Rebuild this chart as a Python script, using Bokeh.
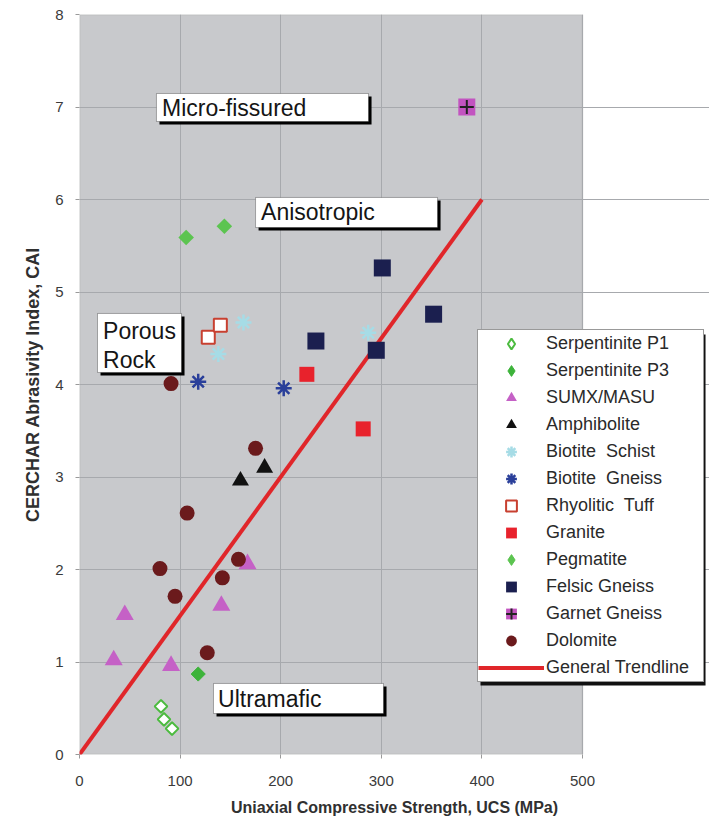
from bokeh.plotting import figure
from bokeh.models import (Range1d, FixedTicker, Legend, LegendItem, BoxAnnotation, Label)
from bokeh.embed import file_html
from bokeh.resources import INLINE
import math

# ---------------- data ----------------
serp_p1_ucs = [81, 84, 92]
serp_p1_cai = [0.52, 0.38, 0.28]
serp_p3_ucs = [118]
serp_p3_cai = [0.87]
sumx_ucs = [34, 45, 91, 141, 167]
sumx_cai = [1.02, 1.51, 0.96, 1.61, 2.06]
amph_ucs = [160, 184]
amph_cai = [2.96, 3.10]
bschist_ucs = [138, 163, 287]
bschist_cai = [4.33, 4.67, 4.56]
bgneiss_ucs = [118, 203]
bgneiss_cai = [4.03, 3.96]
rtuff_ucs = [128, 140]
rtuff_cai = [4.51, 4.64]
granite_ucs = [226, 282]
granite_cai = [4.11, 3.52]
pegm_ucs = [106, 144]
pegm_cai = [5.59, 5.71]
felsic_ucs = [235, 295, 301, 352]
felsic_cai = [4.47, 4.37, 5.26, 4.76]
garnet_ucs = [385]
garnet_cai = [7.0]
dolo_ucs = [91, 175, 107, 80, 95, 158, 142, 127]
dolo_cai = [4.01, 3.31, 2.61, 2.01, 1.71, 2.11, 1.91, 1.10]
trend_ucs = [0, 400]
trend_cai = [0, 6]

x_ticks = [0, 100, 200, 300, 400, 500]
y_ticks = [0, 1, 2, 3, 4, 5, 6, 7, 8]
X_MAX, Y_MAX = 500, 8

FONT = "Liberation Sans"

# frame spans past x=500 so that the legend (which overlaps the plot edge) is not clipped
p = figure(width=709, height=826, output_backend="svg", toolbar_location=None,
           x_range=Range1d(0, 500 * 630 / 503), y_range=Range1d(0, Y_MAX),
           min_border_left=79, min_border_top=14, min_border_right=0, min_border_bottom=72)
p.background_fill_color = "white"
p.border_fill_color = "white"
p.outline_line_color = None

# grey plotting area 0..500 x 0..8
p.add_layout(BoxAnnotation(left=0, right=X_MAX, bottom=0, top=Y_MAX, fill_color="#c8c9cc",
                           fill_alpha=1, line_color="#8a8a8a", line_width=1.5, level="image"))

p.xaxis.ticker = FixedTicker(ticks=x_ticks)
p.yaxis.ticker = FixedTicker(ticks=y_ticks)
for ax in (p.xaxis[0], p.yaxis[0]):
    ax.axis_line_color = None
    ax.major_tick_out = 4
    ax.major_tick_in = 0
    ax.major_tick_line_color = "#9a9a9a"
    ax.minor_tick_line_color = None
    ax.major_label_text_font = FONT
    ax.major_label_text_font_size = "15px"
    ax.major_label_text_color = "#3a3a3a"
    ax.axis_label_text_font = FONT
    ax.axis_label_text_font_style = "bold"
    ax.axis_label_text_color = "#303030"
p.xaxis.major_label_standoff = 17
p.yaxis.major_label_standoff = 12
p.xaxis.axis_label = "Uniaxial Compressive Strength, UCS (MPa)"
p.yaxis.axis_label = "CERCHAR Abrasivity Index, CAI"
p.xaxis.axis_label_text_font_size = "16px"
p.yaxis.axis_label_text_font_size = "18px"
p.xaxis.axis_label_standoff = 10
p.yaxis.axis_label_standoff = 9
p.grid.grid_line_color = "#a7a9ad"
p.grid.grid_line_width = 1
p.ygrid.bounds = (0, X_MAX)

# trendline
r_trend = p.line(trend_ucs, trend_cai, line_color="#e0262a", line_width=4)

ang = math.pi / 4
# diamond glyphs used by the legend (hidden under the rotated squares in the plot)
lg_p1 = p.scatter(serp_p1_ucs, serp_p1_cai, marker="diamond", size=7,
                  fill_color="white", line_color="#4cbb3f", line_width=2)
lg_p3 = p.scatter(serp_p3_ucs, serp_p3_cai, marker="diamond", size=7,
                  fill_color="#3db33a", line_color="#3db33a")
lg_pg = p.scatter(pegm_ucs, pegm_cai, marker="diamond", size=7,
                  fill_color="#5cc450", line_color="#5cc450")

p.scatter(serp_p1_ucs, serp_p1_cai, marker="square", angle=ang, size=9,
          fill_color="white", line_color="#4cbb3f", line_width=2)
p.scatter(serp_p3_ucs, serp_p3_cai, marker="square", angle=ang, size=10,
          fill_color="#3db33a", line_color="#3db33a")
r_sumx = p.scatter(sumx_ucs, sumx_cai, marker="triangle", size=18,
                   fill_color="#c561c6", line_color=None)
r_amph = p.scatter(amph_ucs, amph_cai, marker="triangle", size=17,
                   fill_color="#111111", line_color=None)
r_bs = p.scatter(bschist_ucs, bschist_cai, marker="asterisk", angle=math.pi / 2, size=16,
                 line_color="#a6dce6", line_width=2.5)
r_bg = p.scatter(bgneiss_ucs, bgneiss_cai, marker="asterisk", angle=math.pi / 2, size=16,
                 line_color="#2a3f9a", line_width=2.5)
r_rt = p.scatter(rtuff_ucs, rtuff_cai, marker="square", size=13,
                 fill_color="white", line_color="#c84030", line_width=2)
r_gr = p.scatter(granite_ucs, granite_cai, marker="square", size=15,
                 fill_color="#e8222c", line_color=None)
p.scatter(pegm_ucs, pegm_cai, marker="square", angle=ang, size=11,
          fill_color="#5cc450", line_color=None)
r_fg = p.scatter(felsic_ucs, felsic_cai, marker="square", size=17,
                 fill_color="#1b1f4f", line_color=None)
r_gg = p.scatter(garnet_ucs, garnet_cai, marker="square", size=17,
                 fill_color="#c254c0", line_color=None)
r_gg2 = p.scatter(garnet_ucs, garnet_cai, marker="cross", size=14,
                  line_color="#222222", line_width=2)
r_do = p.scatter(dolo_ucs, dolo_cai, marker="circle", size=15,
                 fill_color="#6b1a1c", line_color=None)

# annotation boxes (with drop shadow)
dx, dy = 3.0, 0.033
boxes = [
    (76.5, 287.3, 7.146, 6.843),
    (175.0, 355.9, 6.022, 5.697),
    (17.9, 101.4, 4.768, 4.130),
    (133.2, 302.2, 0.768, 0.443),
]
for (l, r, t, b) in boxes:
    p.add_layout(BoxAnnotation(left=l + dx, right=r + dx, top=t - dy, bottom=b - dy,
                               fill_color="black", fill_alpha=1, line_color=None, level="annotation"))
    p.add_layout(BoxAnnotation(left=l, right=r, top=t, bottom=b,
                               fill_color="white", fill_alpha=1, line_color="black",
                               line_width=1, level="annotation"))
texts = [
    ("Micro-fissured", 82.0, 6.99),
    ("Anisotropic", 180.5, 5.86),
    ("Porous", 23.4, 4.58),
    ("Rock", 23.4, 4.27),
    ("Ultramafic", 137.7, 0.605),
]
for t, x, y in texts:
    p.add_layout(Label(x=x, y=y, text=t, text_font=FONT, text_font_size="23px",
                       text_color="#151515", text_baseline="middle", text_align="left"))

# legend shadow
p.add_layout(BoxAnnotation(left=398.6, right=622.3, top=4.541, bottom=0.746,
                           fill_color="#111111", fill_alpha=1, line_color=None, level="annotation"))

items = [
    LegendItem(label="Serpentinite P1", renderers=[lg_p1]),
    LegendItem(label="Serpentinite P3", renderers=[lg_p3]),
    LegendItem(label="SUMX/MASU", renderers=[r_sumx]),
    LegendItem(label="Amphibolite", renderers=[r_amph]),
    LegendItem(label="Biotite  Schist", renderers=[r_bs]),
    LegendItem(label="Biotite  Gneiss", renderers=[r_bg]),
    LegendItem(label="Rhyolitic  Tuff", renderers=[r_rt]),
    LegendItem(label="Granite", renderers=[r_gr]),
    LegendItem(label="Pegmatite", renderers=[lg_pg]),
    LegendItem(label="Felsic Gneiss", renderers=[r_fg]),
    LegendItem(label="Garnet Gneiss", renderers=[r_gg, r_gg2]),
    LegendItem(label="Dolomite", renderers=[r_do]),
    LegendItem(label="General Trendline", renderers=[r_trend]),
]
legend = Legend(items=items, location=(398, 72), margin=0, padding=0, spacing=0,
                glyph_width=66, glyph_height=27, label_height=27, label_width=157,
                label_standoff=2, label_text_font=FONT, label_text_font_size="18px",
                label_text_color="#2a2a2a", border_line_color="#333333", border_line_width=1,
                background_fill_color="white", background_fill_alpha=1)
p.add_layout(legend)

open("out.html", "w").write(file_html(p, INLINE))
